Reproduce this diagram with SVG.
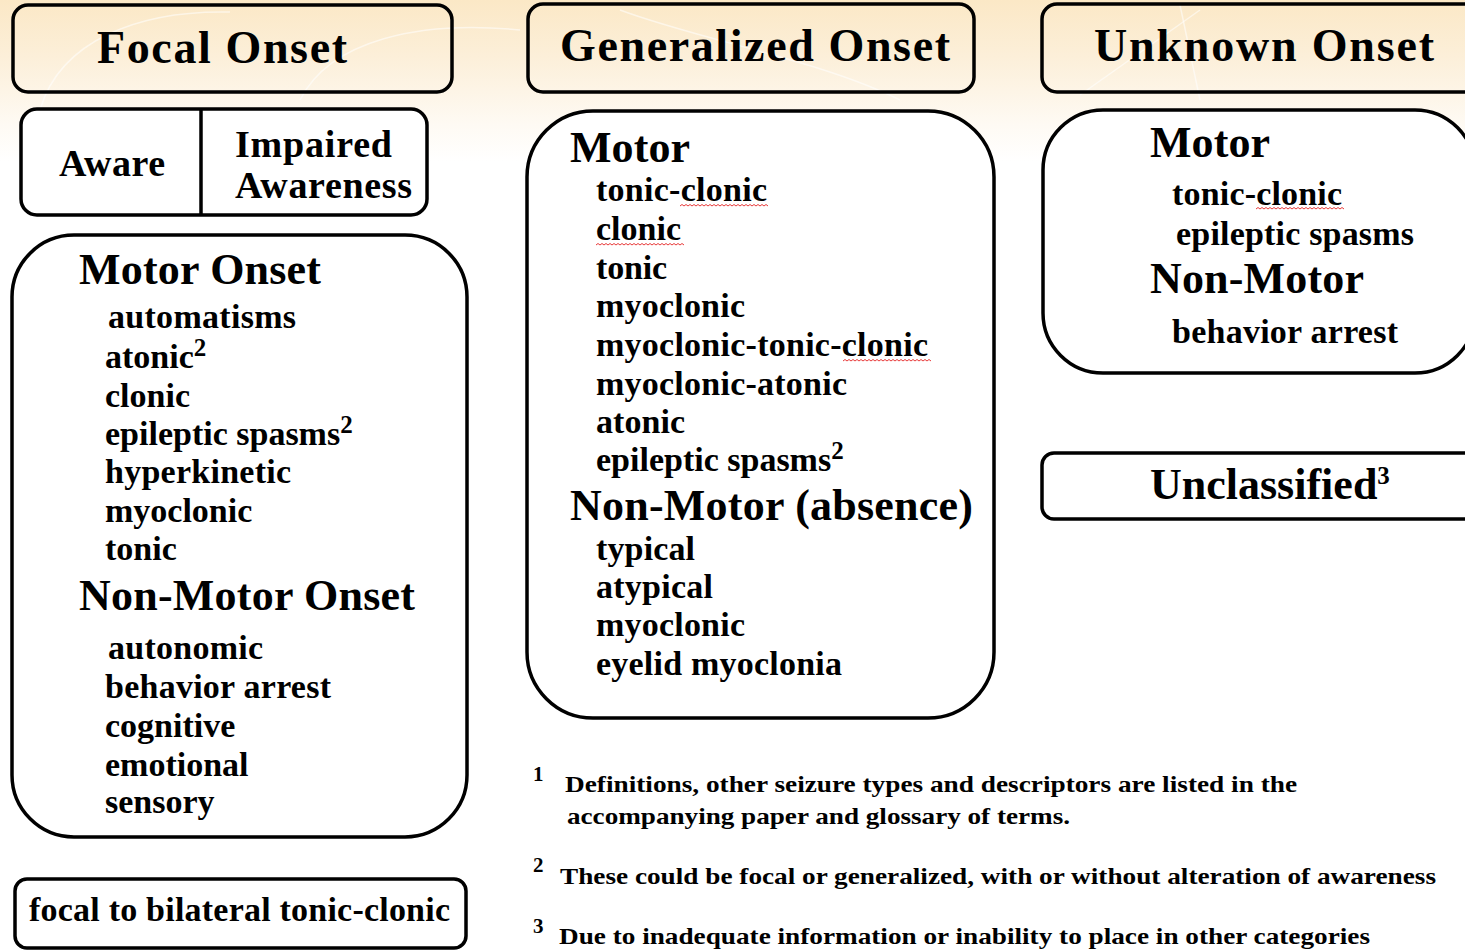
<svg xmlns="http://www.w3.org/2000/svg" width="1465" height="950" viewBox="0 0 1465 950">
<defs>
<linearGradient id="bg" x1="0" y1="0" x2="0" y2="1">
<stop offset="0" stop-color="#fbe8c6"/>
<stop offset="0.06" stop-color="#fcefd9"/>
<stop offset="0.13" stop-color="#fefaf3"/>
<stop offset="0.17" stop-color="#ffffff"/>
</linearGradient>
<style>
.box{fill:none;stroke:#000;stroke-width:3.5}
.wbox{fill:#fff;stroke:#000;stroke-width:3.5}
.ln{stroke:#000;stroke-width:3.5}
text{font-family:"Liberation Serif","Times New Roman",serif;font-weight:bold;fill:#000}
.h1{font-size:46px}
.h2{font-size:44px}
.aw{font-size:38px}
.it{font-size:34px}
.fn{font-size:24px}
.fnn{font-size:21px}
.sup{font-size:25px}
.sq{fill:none;stroke:#e83a3a;stroke-width:1}
.sw{fill:none;stroke:#fff;stroke-width:1.5;opacity:.55}
</style>
</defs>
<rect x="0" y="0" width="1465" height="950" fill="url(#bg)"/>
<g id="background-swirls">
<path class="sw" d="M40,110 C60,40 140,10 230,12"/>
<path class="sw" d="M300,100 C330,40 420,20 520,30"/>
<path class="sw" d="M620,10 C700,40 820,60 900,100"/>
<path class="sw" d="M1080,95 L1200,10"/>
<path class="sw" d="M1180,5 L1200,100"/>
</g>

<g id="focal-onset">
<rect class="box" x="13" y="5" width="439" height="87" rx="15"/>
<text class="h1" x="97" y="63" textLength="250">Focal Onset</text>
</g>

<g id="generalized-onset">
<rect class="box" x="528" y="4" width="446" height="88" rx="15"/>
<text class="h1" x="560" y="61" textLength="390">Generalized Onset</text>
</g>

<g id="unknown-onset">
<rect class="box" x="1042" y="4" width="460" height="88" rx="15"/>
<text class="h1" x="1094" y="61" textLength="340">Unknown Onset</text>
</g>

<g id="awareness">
<rect class="wbox" x="21" y="109" width="406" height="106" rx="16"/>
<line class="ln" x1="201" y1="109" x2="201" y2="215"/>
<text class="aw" x="59" y="176" textLength="106">Aware</text>
<text class="aw" x="235" y="157" textLength="157">Impaired</text>
<text class="aw" x="235" y="198" textLength="177">Awareness</text>
</g>

<g id="focal-types">
<rect class="wbox" x="12" y="235" width="455" height="602" rx="62"/>
<text class="h2" x="79" y="284" textLength="242">Motor Onset</text>
<text class="it" x="108" y="328" textLength="188">automatisms</text>
<text class="it" x="105" y="368">atonic<tspan class="sup" dy="-12">2</tspan></text>
<text class="it" x="105" y="407">clonic</text>
<text class="it" x="105" y="445">epileptic spasms<tspan class="sup" dy="-12">2</tspan></text>
<text class="it" x="105" y="483" textLength="186">hyperkinetic</text>
<text class="it" x="105" y="522">myoclonic</text>
<text class="it" x="105" y="560">tonic</text>
<text class="h2" x="79" y="610" textLength="336">Non-Motor Onset</text>
<text class="it" x="108" y="659" textLength="155">autonomic</text>
<text class="it" x="105" y="698" textLength="226">behavior arrest</text>
<text class="it" x="105" y="737">cognitive</text>
<text class="it" x="105" y="776">emotional</text>
<text class="it" x="105" y="813">sensory</text>
</g>

<g id="focal-to-bilateral">
<rect class="wbox" x="15" y="879" width="451" height="69" rx="12"/>
<text class="it" x="29" y="921" textLength="421">focal to bilateral tonic-clonic</text>
</g>

<g id="generalized-types">
<rect class="wbox" x="527" y="111" width="467" height="607" rx="66"/>
<text class="h2" x="570" y="162" textLength="120">Motor</text>
<text class="it" x="596" y="201" textLength="171">tonic-clonic</text>
<text class="it" x="596" y="240" textLength="85">clonic</text>
<text class="it" x="596" y="279" textLength="71">tonic</text>
<text class="it" x="596" y="317" textLength="149">myoclonic</text>
<text class="it" x="596" y="356" textLength="332">myoclonic-tonic-clonic</text>
<text class="it" x="596" y="395" textLength="251">myoclonic-atonic</text>
<text class="it" x="596" y="433" textLength="89">atonic</text>
<text class="it" x="596" y="471">epileptic spasms<tspan class="sup" dy="-12">2</tspan></text>
<text class="h2" x="570" y="520" textLength="403">Non-Motor (absence)</text>
<text class="it" x="596" y="560" textLength="99">typical</text>
<text class="it" x="596" y="598" textLength="117">atypical</text>
<text class="it" x="596" y="636" textLength="149">myoclonic</text>
<text class="it" x="596" y="675" textLength="246">eyelid myoclonia</text>
</g>

<g id="unknown-types">
<rect class="wbox" x="1043" y="110" width="432" height="263" rx="60"/>
<text class="h2" x="1150" y="157" textLength="120">Motor</text>
<text class="it" x="1172" y="205" textLength="170">tonic-clonic</text>
<text class="it" x="1176" y="245" textLength="238">epileptic spasms</text>
<text class="h2" x="1150" y="293" textLength="214">Non-Motor</text>
<text class="it" x="1172" y="343" textLength="226">behavior arrest</text>
</g>

<g id="unclassified">
<rect class="wbox" x="1042" y="453" width="460" height="66" rx="12"/>
<text class="h2" x="1150" y="499">Unclassified<tspan font-size="25" dy="-15">3</tspan></text>
</g>

<g id="spellcheck-marks">
<path class="sq" d="M680,206 l2,-1.5 2,1.5 2,-1.5 2,1.5 2,-1.5 2,1.5 2,-1.5 2,1.5 2,-1.5 2,1.5 2,-1.5 2,1.5 2,-1.5 2,1.5 2,-1.5 2,1.5 2,-1.5 2,1.5 2,-1.5 2,1.5 2,-1.5 2,1.5 2,-1.5 2,1.5 2,-1.5 2,1.5 2,-1.5 2,1.5 2,-1.5 2,1.5 2,-1.5 2,1.5 2,-1.5 2,1.5 2,-1.5 2,1.5 2,-1.5 2,1.5 2,-1.5 2,1.5 2,-1.5 2,1.5 2,-1.5 2,1.5"/>
<path class="sq" d="M596,245 l2,-1.5 2,1.5 2,-1.5 2,1.5 2,-1.5 2,1.5 2,-1.5 2,1.5 2,-1.5 2,1.5 2,-1.5 2,1.5 2,-1.5 2,1.5 2,-1.5 2,1.5 2,-1.5 2,1.5 2,-1.5 2,1.5 2,-1.5 2,1.5 2,-1.5 2,1.5 2,-1.5 2,1.5 2,-1.5 2,1.5 2,-1.5 2,1.5 2,-1.5 2,1.5 2,-1.5 2,1.5 2,-1.5 2,1.5 2,-1.5 2,1.5 2,-1.5 2,1.5 2,-1.5 2,1.5 2,-1.5 2,1.5"/>
<path class="sq" d="M843,361 l2,-1.5 2,1.5 2,-1.5 2,1.5 2,-1.5 2,1.5 2,-1.5 2,1.5 2,-1.5 2,1.5 2,-1.5 2,1.5 2,-1.5 2,1.5 2,-1.5 2,1.5 2,-1.5 2,1.5 2,-1.5 2,1.5 2,-1.5 2,1.5 2,-1.5 2,1.5 2,-1.5 2,1.5 2,-1.5 2,1.5 2,-1.5 2,1.5 2,-1.5 2,1.5 2,-1.5 2,1.5 2,-1.5 2,1.5 2,-1.5 2,1.5 2,-1.5 2,1.5 2,-1.5 2,1.5 2,-1.5 2,1.5"/>
<path class="sq" d="M1256,209 l2,-1.5 2,1.5 2,-1.5 2,1.5 2,-1.5 2,1.5 2,-1.5 2,1.5 2,-1.5 2,1.5 2,-1.5 2,1.5 2,-1.5 2,1.5 2,-1.5 2,1.5 2,-1.5 2,1.5 2,-1.5 2,1.5 2,-1.5 2,1.5 2,-1.5 2,1.5 2,-1.5 2,1.5 2,-1.5 2,1.5 2,-1.5 2,1.5 2,-1.5 2,1.5 2,-1.5 2,1.5 2,-1.5 2,1.5 2,-1.5 2,1.5 2,-1.5 2,1.5 2,-1.5 2,1.5 2,-1.5 2,1.5"/>
</g>

<g id="footnotes">
<text class="fnn" x="533" y="781">1</text>
<text class="fn" x="565" y="792" textLength="732" lengthAdjust="spacingAndGlyphs">Definitions, other seizure types and descriptors are listed in the</text>
<text class="fn" x="567" y="824" textLength="503" lengthAdjust="spacingAndGlyphs">accompanying paper and glossary of terms.</text>
<text class="fnn" x="533" y="872">2</text>
<text class="fn" x="560" y="884" textLength="876" lengthAdjust="spacingAndGlyphs">These could be focal or generalized, with or without alteration of awareness</text>
<text class="fnn" x="533" y="933">3</text>
<text class="fn" x="559" y="944" textLength="811" lengthAdjust="spacingAndGlyphs">Due to inadequate information or inability to place in other categories</text>
</g>

<g id="connectors"/>
</svg>
